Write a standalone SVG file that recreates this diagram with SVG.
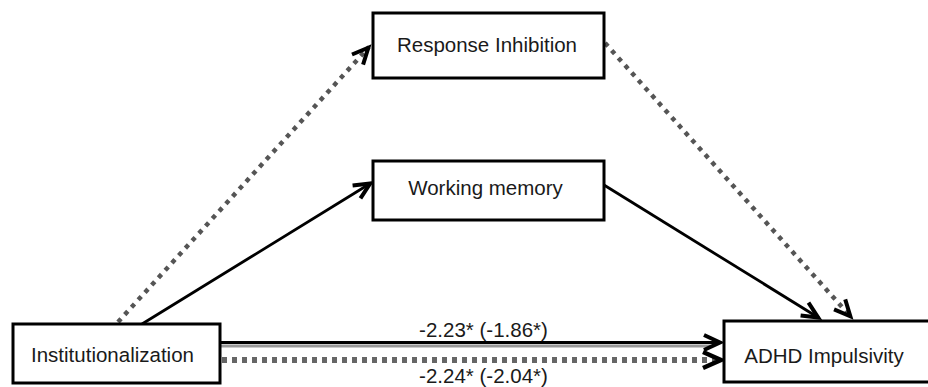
<svg xmlns="http://www.w3.org/2000/svg" width="928" height="387" viewBox="0 0 928 387">
<style>
.box{fill:#fff;stroke:#000;stroke-width:3}
.lbl{font-family:"Liberation Sans",Arial,sans-serif;font-size:20.5px;fill:#1a1a1a;text-anchor:middle}
.solid{stroke:#000;stroke-width:2.8;fill:none}
.dot{stroke:#555;stroke-width:4.5;stroke-dasharray:4.5 5.5;fill:none}
.hdot{stroke:#666;stroke-width:6;stroke-dasharray:5 5;fill:none}
</style>
<defs>
<marker id="arr" viewBox="0 0 20 18" refX="19" refY="9" markerWidth="20" markerHeight="18" markerUnits="userSpaceOnUse" orient="auto" overflow="visible">
<path d="M2,1.5 L18,9 L2,16.5" fill="none" stroke="#000" stroke-width="4" stroke-linejoin="miter"/>
</marker>
<marker id="arrb" viewBox="0 0 22 22" refX="20" refY="11" markerWidth="22" markerHeight="22" markerUnits="userSpaceOnUse" orient="auto" overflow="visible">
<path d="M2,3 L20,11 L2,19" fill="none" stroke="#000" stroke-width="4.5" stroke-linejoin="miter"/>
</marker>
</defs>
<g id="connectors">
<path class="dot" d="M118,322 L369,47" marker-end="url(#arr)"/>
<path class="solid" d="M142,324 L371,183" marker-end="url(#arr)"/>
<path class="solid" d="M604,185 L819,318" marker-end="url(#arr)"/>
<path class="dot" d="M605,43 L851,317" marker-end="url(#arr)"/>
<line x1="220" y1="346" x2="712" y2="346" stroke="#999" stroke-width="3"/>
<path class="solid" d="M220,342.5 L721,342.5" marker-end="url(#arr)"/>
<path class="hdot" d="M222,360 L721,360" marker-end="url(#arrb)"/>
<text class="lbl" x="483.5" y="337">-2.23* (-1.86*)</text>
<text class="lbl" x="483.5" y="383">-2.24* (-2.04*)</text>
</g>
<g id="node-inst">
<rect class="box" x="13" y="324" width="207" height="59"/>
<text class="lbl" x="112.5" y="362">Institutionalization</text>
</g>
<g id="node-ri">
<rect class="box" x="373" y="13" width="231" height="65"/>
<text class="lbl" x="487" y="52">Response Inhibition</text>
</g>
<g id="node-wm">
<rect class="box" x="373" y="161" width="231" height="59"/>
<text class="lbl" x="485.5" y="195">Working memory</text>
</g>
<g id="node-adhd">
<rect class="box" x="724" y="321" width="215" height="61"/>
<text class="lbl" x="824" y="363">ADHD Impulsivity</text>
</g>
</svg>
